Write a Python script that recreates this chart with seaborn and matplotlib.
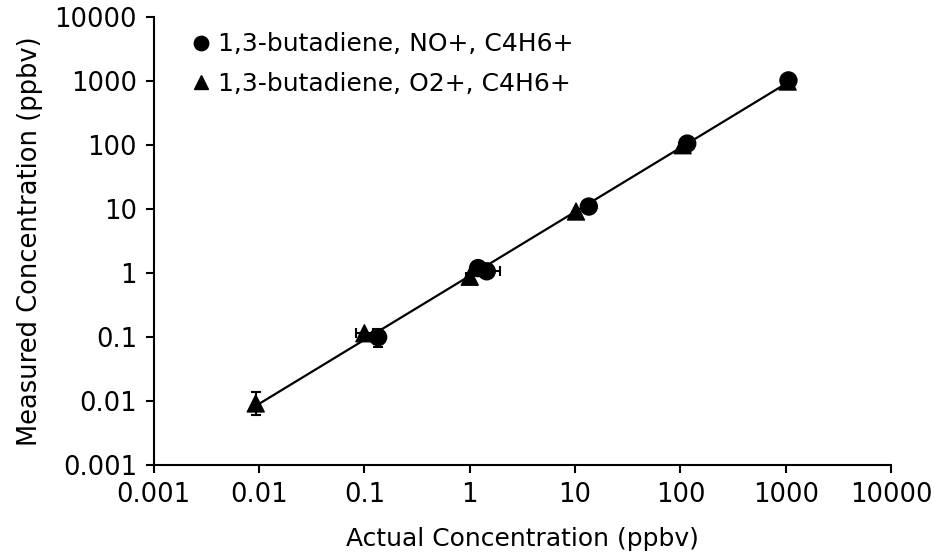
import numpy as np
import pandas as pd
import matplotlib
matplotlib.use("Agg")
import matplotlib.pyplot as plt
import seaborn as sns
from matplotlib.ticker import FixedLocator, FixedFormatter, NullLocator

# NO+ reagent ion (circles)
no_actual = [0.135, 1.2, 1.45, 13.5, 116, 1060]
no_measured = [0.10, 1.2, 1.07, 11.0, 106, 1030]
no_xerr_lo = [0.0, 0.0, 0.35, 0.0, 0.0, 0.0]
no_xerr_hi = [0.0, 0.0, 0.5, 1.5, 0.0, 0.0]
no_yerr_lo = [0.03, 0.0, 0.0, 0.0, 0.0, 0.0]
no_yerr_hi = [0.035, 0.0, 0.0, 0.0, 0.0, 0.0]

# O2+ reagent ion (triangles)
o2_actual = [0.0093, 0.10, 1.0, 10.2, 105, 1040]
o2_measured = [0.0092, 0.115, 0.88, 9.2, 100, 990]
o2_xerr_lo = [0.0, 0.016, 0.08, 0.0, 0.0, 0.0]
o2_xerr_hi = [0.0, 0.02, 0.0, 0.0, 0.0, 0.0]
o2_yerr_lo = [0.0032, 0.0, 0.0, 0.0, 0.0, 0.0]
o2_yerr_hi = [0.0048, 0.0, 0.0, 0.0, 0.0, 0.0]

tick_values = [0.001, 0.01, 0.1, 1, 10, 100, 1000, 10000]
tick_labels = ["0.001", "0.01", "0.1", "1", "10", "100", "1000", "10000"]

label_no = "1,3-butadiene, NO+, C4H6+"
label_o2 = "1,3-butadiene, O2+, C4H6+"

sns.set_style("ticks", rc={'text.color': 'black', 'axes.labelcolor': 'black',
                           'xtick.color': 'black', 'ytick.color': 'black'})
plt.rcParams['font.family'] = ['DejaVu Sans']

df = pd.DataFrame({
    'actual': no_actual + o2_actual,
    'measured': no_measured + o2_measured,
    'series': [label_no] * len(no_actual) + [label_o2] * len(o2_actual),
})

fig = plt.figure(figsize=(9.43, 5.57), dpi=100)
ax = fig.add_axes([0.163, 0.165, 0.782, 0.804])

# trend line, least squares in log space over all points
lx = np.log10(df['actual'])
ly = np.log10(df['measured'])
slope, icpt = np.polyfit(lx, ly, 1)
fit_x = np.array([df['actual'].min(), df['actual'].max()])
fit_df = pd.DataFrame({'x': fit_x, 'y': 10 ** (icpt + slope * np.log10(fit_x))})
sns.lineplot(data=fit_df, x='x', y='y', color='black', lw=1.6, ax=ax, zorder=2)

# error bars
ax.errorbar(no_actual, no_measured, xerr=[no_xerr_lo, no_xerr_hi],
            yerr=[no_yerr_lo, no_yerr_hi], fmt='none', ecolor='black',
            elinewidth=1.5, capsize=3.5, capthick=1.5, zorder=3)
ax.errorbar(o2_actual, o2_measured, xerr=[o2_xerr_lo, o2_xerr_hi],
            yerr=[o2_yerr_lo, o2_yerr_hi], fmt='none', ecolor='black',
            elinewidth=1.5, capsize=3.5, capthick=1.5, zorder=3)

sns.scatterplot(data=df, x='actual', y='measured', style='series',
                markers={label_no: 'o', label_o2: '^'},
                color='black', edgecolor='black', s=150, ax=ax, zorder=4)

ax.set_xscale('log')
ax.set_yscale('log')
ax.set_xlim(0.001, 10000)
ax.set_ylim(0.001, 10000)
ax.xaxis.set_major_locator(FixedLocator(tick_values))
ax.xaxis.set_major_formatter(FixedFormatter(tick_labels))
ax.yaxis.set_major_locator(FixedLocator(tick_values))
ax.yaxis.set_major_formatter(FixedFormatter(tick_labels))
ax.xaxis.set_minor_locator(NullLocator())
ax.yaxis.set_minor_locator(NullLocator())
ax.tick_params(axis='both', labelsize=18.5, length=6, width=1.5, pad=6)

ax.set_xlabel("Actual Concentration (ppbv)", fontsize=18, labelpad=14)
ax.set_ylabel("Measured Concentration (ppbv)", fontsize=18.5, labelpad=8)

sns.despine(ax=ax)
for sp in ['left', 'bottom']:
    ax.spines[sp].set_linewidth(1.5)
    ax.spines[sp].set_color('black')

leg = ax.legend(loc='upper left', bbox_to_anchor=(0.033, 1.0), frameon=False,
                fontsize=18, handlelength=0.6, handletextpad=0.4,
                labelspacing=0.62, markerscale=0.85, borderaxespad=0.2)

fig.savefig('out.png', dpi=100)
